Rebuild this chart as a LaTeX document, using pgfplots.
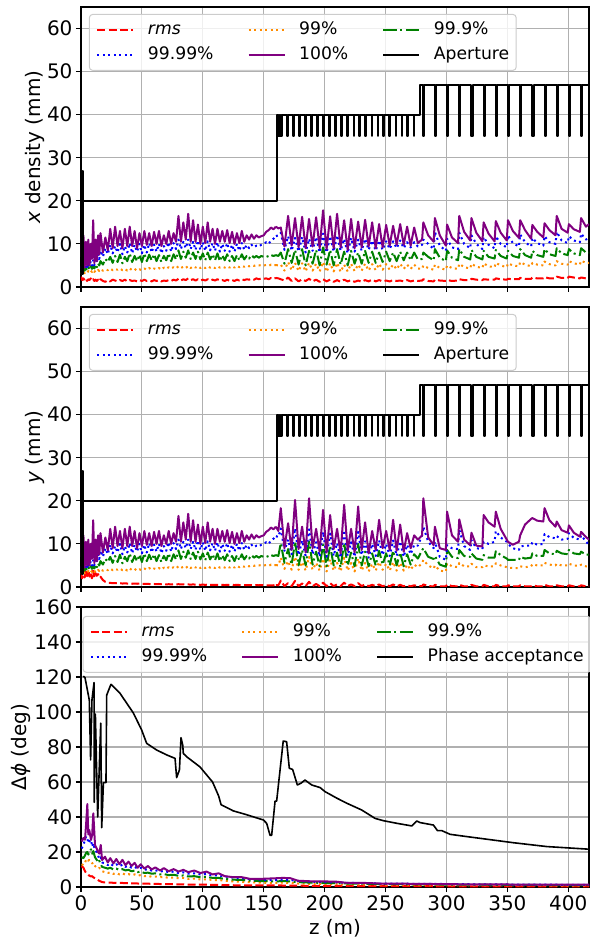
\documentclass[border=0pt]{standalone}
\usepackage{fontspec}
\setmainfont{DejaVu Sans}
\usepackage{pgfplots}
\usepackage{pgfplotstable}
\pgfplotsset{compat=1.18}

\definecolor{mred}{HTML}{FF0000}
\definecolor{morange}{HTML}{FF8C00}
\definecolor{mgreen}{HTML}{008000}
\definecolor{mblue}{HTML}{0000FF}
\definecolor{mpurple}{HTML}{800080}

% Beam envelope, first 160 m (identical in x and y except the rms column)
\pgfplotstableread{
z rmsx rmsy p99 p999 p9999 p100
0 2.4 3.2 3.4 4.0 4.8 11.5
1 1.6 2.0 3.0 3.6 4.2 6.0
2 2.0 4.2 3.6 4.5 5.8 12.0
3 1.5 2.2 3.2 3.8 4.4 4.5
4 1.9 3.8 3.5 4.3 5.2 10.5
5 1.4 2.5 3.3 3.9 4.6 5.0
6 1.8 4.0 3.7 4.6 5.5 11.0
7 1.6 2.4 3.4 4.0 4.8 5.0
8 2.0 3.5 3.8 4.8 6.0 10.0
9 1.5 2.0 3.5 4.2 5.0 6.5
10 1.8 3.8 3.9 5.0 6.2 15.5
11 1.4 2.2 3.5 4.3 5.0 5.5
12 1.7 3.2 3.8 5.2 6.8 11.0
13 1.4 2.6 3.6 4.6 5.5 6.0
14 1.7 3.0 4.0 5.5 7.5 12.0
15 1.3 2.2 3.7 5.0 6.5 7.5
16 1.8 2.4 4.1 6.0 8.5 12.5
18 1.4 1.6 3.8 5.2 7.0 8.0
20 1.2 1.2 4.1 6.5 9.0 11.5
22 1.6 1.0 3.9 5.8 7.6 8.5
24 1.3 0.95 4.3 7.0 9.8 13.5
26 1.7 0.9 3.9 5.6 7.8 9.0
28 1.5 0.9 4.2 7.2 9.5 14.0
30 1.3 0.85 4.0 5.8 8.0 9.5
32 1.6 0.9 4.3 7.5 10.0 13.0
34 1.4 0.8 3.9 5.5 7.6 9.0
36 1.7 0.85 4.2 7.0 9.5 13.5
38 1.3 0.8 3.8 6.0 8.0 9.5
40 1.6 0.8 4.3 7.8 10.2 14.0
42 1.4 0.75 3.9 5.8 7.8 9.5
44 1.5 0.8 4.2 7.2 9.8 13.0
46 1.3 0.75 3.8 6.0 8.2 9.0
48 1.6 0.8 4.1 7.5 10.0 12.5
50 1.4 0.7 3.9 5.8 7.8 9.5
52 1.7 0.75 4.3 7.8 9.8 13.0
54 1.4 0.7 4.0 6.0 8.0 9.8
56 1.5 0.7 4.4 7.5 10.2 12.5
58 1.3 0.65 4.0 6.2 8.0 9.5
60 1.6 0.7 4.3 7.6 9.8 12.8
62 1.4 0.65 4.1 6.0 8.2 10.0
64 1.6 0.7 4.4 7.4 10.0 13.0
66 1.3 0.65 4.0 5.8 7.8 9.5
68 1.5 0.7 4.5 7.2 9.5 12.0
70 1.4 0.6 4.2 6.2 8.4 10.0
72 1.6 0.65 4.6 7.8 10.4 13.0
74 1.4 0.6 4.3 6.0 8.2 10.0
76 1.7 0.65 4.6 7.6 10.2 12.5
78 1.5 0.6 4.3 6.4 8.8 10.5
80 1.9 0.65 4.8 8.5 11.0 16.5
82 1.5 0.6 4.4 6.5 8.8 10.5
84 1.8 0.6 4.7 8.2 10.5 15.0
86 1.6 0.55 4.4 6.8 9.0 11.0
88 2.0 0.6 4.9 8.5 11.0 17.0
90 1.6 0.55 4.4 6.5 8.8 10.5
92 1.8 0.6 4.8 8.0 10.5 15.5
94 1.5 0.55 4.5 6.5 8.6 10.5
96 1.8 0.55 4.8 8.2 10.8 14.5
98 1.5 0.5 4.4 6.4 8.6 10.0
100 1.7 0.55 4.7 7.8 10.4 14.0
102 1.5 0.5 4.4 6.2 8.4 10.2
104 1.8 0.55 4.8 8.0 10.6 15.0
106 1.5 0.5 4.5 6.4 8.5 10.5
108 1.7 0.5 4.7 7.6 10.2 13.5
110 1.5 0.5 4.4 6.2 8.4 10.0
112 1.8 0.5 4.8 7.8 10.4 13.5
114 1.5 0.5 4.5 6.0 8.2 10.5
116 1.6 0.5 4.7 7.4 10.0 13.0
118 1.4 0.45 4.5 6.2 8.4 10.5
120 1.7 0.5 4.8 7.6 10.2 13.2
122 1.4 0.45 4.5 6.0 8.2 10.2
124 1.6 0.5 4.8 7.2 9.8 12.8
126 1.4 0.45 4.5 6.0 8.2 10.0
128 1.7 0.5 4.9 7.4 10.0 12.5
130 1.5 0.45 4.6 6.2 8.4 10.2
132 1.8 0.45 4.9 7.6 10.2 13.0
134 1.6 0.45 4.7 6.4 8.6 10.5
136 1.8 0.45 5.0 7.2 9.8 12.0
138 1.7 0.45 4.8 6.6 9.0 11.0
140 1.9 0.45 5.0 7.4 9.8 12.2
142 1.7 0.4 4.9 6.8 9.2 11.2
144 2.0 0.45 5.1 7.2 9.6 12.0
146 1.8 0.4 5.0 6.8 9.4 11.5
148 2.0 0.45 5.1 7.2 9.8 11.8
150 1.9 0.4 5.0 7.0 10.0 12.0
152 2.0 0.4 5.1 7.2 10.4 12.8
154 1.8 0.4 4.9 7.0 10.0 13.2
156 2.1 0.4 5.2 7.4 10.8 13.8
158 1.9 0.4 5.0 7.2 11.2 13.4
160 2.1 0.45 5.1 7.4 11.8 14.0
}\tabA

% x envelope beyond 160 m
\pgfplotstableread{
z rms p99 p999 p9999 p100
160 2.1 5.1 7.4 11.8 14.0
162 2.0 5.0 7.2 12.0 13.6
164 1.8 5.2 8.0 12.6 13.8
167 1.5 3.8 5.4 8.6 9.4
170 2.2 5.8 8.8 11.8 16.5
172.9 1.4 3.9 5.6 8.4 9.6
175.7 2.0 5.6 8.6 11.4 16.0
178.6 1.3 3.7 5.2 8.2 9.2
181.5 1.8 5.5 8.8 11.6 16.3
184.4 1.4 3.6 5.0 8.0 9.0
187.2 1.9 5.6 8.4 11.2 15.8
190.1 1.3 3.8 5.4 8.4 9.4
193 1.7 5.4 8.6 11.6 16.2
195.9 1.2 3.6 5.0 8.0 9.0
198.7 1.8 5.8 9.2 12.4 17.8
201.6 1.3 3.5 5.2 8.0 8.8
204.5 1.7 5.5 8.6 11.8 16.4
207.4 1.2 3.6 5.0 8.2 9.0
210.2 1.6 5.6 8.8 12.0 17.0
213.1 1.2 3.5 5.2 8.4 9.2
216 1.7 5.2 8.2 11.2 15.5
218.9 1.3 3.6 5.0 7.8 8.6
221.7 1.6 5.4 8.4 11.4 15.8
224.6 1.2 3.7 5.4 8.2 9.0
227.5 1.5 5.2 8.0 11.0 15.2
230.4 1.2 3.8 5.4 8.4 9.2
233.2 1.6 5.4 8.4 11.2 15.6
236.1 1.3 3.8 5.6 8.6 9.4
239 1.7 5.3 8.2 10.8 15.0
241.9 1.3 3.9 5.6 8.4 9.0
244.7 1.6 5.4 8.0 10.8 14.6
247.6 1.3 4.0 5.8 8.6 9.2
250.5 1.5 5.3 8.2 10.6 14.4
253.4 1.3 4.0 6.0 8.8 9.6
256.2 1.6 5.2 8.0 10.6 14.2
259.1 1.4 4.1 6.0 9.0 9.8
262 1.5 5.4 8.2 10.8 14.6
264.9 1.3 4.2 6.2 9.0 9.8
267.7 1.6 5.2 8.0 10.4 14.0
270.6 1.3 4.2 6.2 9.2 9.6
273.5 1.5 5.2 8.0 10.4 13.8
276.5 1.4 4.3 6.4 9.4 10.2
280 1.5 4.2 6.5 9.8 11.0
281 1.8 5.0 8.0 11.0 15.0
285 1.4 4.4 7.0 10.0 12.0
289.5 1.3 4.0 6.2 8.8 10.5
290.5 1.7 5.2 8.8 12.8 16.0
294.5 1.5 4.4 6.8 9.6 12.0
299.5 1.4 4.0 6.0 8.4 9.6
300.5 1.6 5.0 8.5 11.2 14.5
304.5 1.4 4.4 6.8 9.2 11.5
309.5 1.5 4.2 6.2 8.8 10.2
310.5 1.8 5.4 8.8 12.6 16.5
314.5 1.6 4.6 7.0 10.0 12.8
319.5 1.6 4.3 6.4 9.0 10.8
320.5 1.9 5.4 8.6 12.0 16.0
324.5 1.7 4.7 7.0 10.0 12.6
329.5 1.6 4.4 6.4 8.8 10.6
330.5 1.8 5.5 8.4 11.6 15.0
334.5 1.7 4.8 7.0 9.8 12.4
339.5 1.7 4.6 6.6 9.0 10.6
340.5 2.0 5.6 8.6 11.8 15.3
344.5 1.8 5.0 7.2 10.0 12.6
349.5 1.7 4.6 6.6 9.2 10.8
350.5 1.9 5.5 8.4 12.0 15.5
354.5 1.8 5.0 7.2 10.2 13.0
359.5 1.8 4.8 6.8 9.4 11.4
360.5 2.1 5.8 8.8 12.2 15.5
364.5 1.9 5.2 7.4 10.4 13.2
369.5 1.9 4.8 6.8 9.4 11.2
370.5 2.2 5.6 8.4 11.4 14.4
374.5 2.0 5.2 7.4 10.2 12.8
379.5 2.0 5.0 7.0 9.6 11.5
380.5 2.3 5.9 8.8 11.8 14.8
384.5 2.0 5.3 7.6 10.4 13.2
389.5 2.0 5.0 7.2 10.0 12.0
390.5 2.4 6.0 9.0 12.8 16.5
394.5 2.1 5.4 7.8 10.8 13.5
399.5 2.1 5.2 7.4 10.2 12.6
400.5 2.4 6.0 8.8 11.8 14.6
404.5 2.2 5.5 7.8 10.8 13.4
409.5 2.0 5.2 7.4 10.4 12.8
410.5 2.2 6.1 9.0 12.4 16.0
414.5 2.0 5.6 8.0 11.0 14.0
417 1.9 5.6 8.0 11.4 14.6
}\tabXB

% y envelope beyond 160 m
\pgfplotstableread{
z rms p99 p999 p9999 p100
160 0.45 5.1 7.4 11.8 14.0
162 0.4 5.0 7.2 11.6 13.0
164 1.5 6.8 10.2 13.6 18.3
167 0.2 4.2 5.6 8.4 9.0
170 0.9 6.0 8.8 11.0 14.8
172.9 0.2 4.0 5.2 7.6 8.6
175.7 1.4 7.0 10.5 13.6 20.2
178.6 0.2 4.0 5.0 7.4 8.8
181.5 0.8 5.8 8.6 10.8 14.0
184.4 0.2 3.8 5.0 7.2 8.0
187.2 1.2 7.0 10.6 13.4 20.6
190.1 0.2 4.0 5.2 7.6 9.0
193 0.7 5.6 8.2 10.4 13.5
195.9 0.2 3.8 4.8 7.0 8.2
198.7 1.0 6.6 9.8 12.8 17.9
201.6 0.2 3.6 4.8 7.0 8.0
204.5 0.9 6.4 9.6 12.4 16.7
207.4 0.2 3.8 5.0 7.2 8.8
210.2 0.6 5.6 8.0 10.2 13.5
213.1 0.2 3.6 4.6 6.8 7.8
216 1.0 6.8 10.2 13.2 19.1
218.9 0.2 3.8 5.0 7.2 8.4
221.7 0.6 5.6 8.0 10.4 13.5
224.6 0.2 3.6 4.8 7.0 8.0
227.5 0.9 6.6 10.0 12.8 18.7
230.4 0.2 3.8 5.0 7.4 8.6
233.2 0.6 5.6 8.2 10.6 15.0
236.1 0.2 3.6 4.8 6.8 7.8
239 0.5 5.4 7.8 10.0 13.0
241.9 0.2 3.8 5.0 7.2 8.6
244.7 0.6 5.8 8.4 10.8 15.6
247.6 0.15 4.0 5.2 7.4 9.0
250.5 0.5 5.4 7.8 10.0 13.0
253.4 0.15 3.8 5.0 7.2 8.6
256.2 0.6 5.8 8.4 10.8 15.6
259.1 0.15 3.8 5.0 7.2 8.4
262 0.5 5.6 8.0 10.6 14.5
264.9 0.15 3.8 4.8 7.0 8.2
267.7 0.4 5.2 7.6 9.8 12.5
270.6 0.15 4.0 5.2 7.6 9.0
273.5 0.4 5.2 7.6 9.8 12.0
276.5 0.2 4.6 6.6 9.6 11.0
280 0.2 5.5 8.5 12.0 12.0
281 0.6 6.3 9.0 14.0 20.6
285 0.2 5.0 7.0 10.5 11.5
289.5 0.15 4.3 6.5 9.0 9.7
290.5 0.5 5.0 7.2 10.5 14.0
294.5 0.15 3.8 5.2 7.0 9.0
299.5 0.15 3.6 4.7 6.3 8.6
300.5 0.6 5.5 8.6 9.7 17.5
304.5 0.2 4.8 7.0 9.0 12.0
309.5 0.15 4.6 6.7 8.8 10.5
310.5 0.5 5.6 8.6 13.3 15.7
314.5 0.15 4.8 7.2 9.5 11.0
319.5 0.15 4.8 7.0 8.6 9.7
320.5 0.5 5.4 7.8 10.9 12.6
324.5 0.15 4.6 6.6 9.0 9.6
329.5 0.15 4.6 6.3 8.8 9.4
330.5 0.5 5.0 7.4 10.5 16.7
334.5 0.15 4.8 6.8 10.0 15.0
339.5 0.15 4.8 6.8 10.5 14.0
340.5 0.5 5.5 8.3 13.0 17.5
344.5 0.15 5.0 7.4 11.5 13.5
349.5 0.15 4.6 6.6 10.5 11.0
350.5 0.4 4.5 6.3 10.0 10.5
354.5 0.15 4.4 6.3 9.0 9.8
359.5 0.15 4.4 6.3 8.6 10.5
360.5 0.4 4.8 7.0 9.4 12.0
364.5 0.15 4.6 6.6 9.6 14.5
369.5 0.15 4.8 6.8 9.6 15.8
370.5 0.4 5.3 7.8 10.4 16.0
374.5 0.15 5.0 7.2 9.8 15.4
379.5 0.15 5.0 7.2 10.0 15.2
380.5 0.5 5.6 8.6 12.3 18.3
384.5 0.15 5.2 7.8 11.6 15.5
389.5 0.15 5.0 7.6 11.3 14.0
390.5 0.4 5.4 8.4 11.8 15.2
394.5 0.15 5.0 7.8 11.0 13.2
399.5 0.15 5.0 7.6 11.2 12.6
400.5 0.4 5.4 8.6 12.5 14.3
404.5 0.15 5.0 7.8 11.4 12.6
409.5 0.15 4.9 7.6 11.0 11.7
410.5 0.4 5.2 8.2 12.0 12.8
414.5 0.15 4.8 7.5 10.6 11.6
417 0.15 4.8 7.5 9.7 11.0
}\tabYB

% Phase spread along the linac
\pgfplotstableread{
z rms p99 p999 p9999 p100
0.5 12.0 13.0 17.0 22.0 26.0
2 11.0 12.5 16.5 24.0 28.0
3.3 9.0 14.0 18.0 27.0 27.0
4.2 8.0 15.5 19.5 29.0 36.0
5.2 7.5 16.0 20.0 28.0 47.4
6.0 7.0 15.0 18.5 25.0 30.0
6.8 6.5 15.5 20.0 26.0 32.6
8.2 6.0 14.5 21.5 27.0 26.9
9.2 6.2 13.5 19.0 23.0 30.0
10.1 5.5 14.0 20.5 25.0 42.1
11.5 5.0 12.0 17.0 21.0 24.0
12.9 4.5 11.0 15.5 20.0 22.0
14.0 4.0 10.5 14.0 18.0 20.0
15.0 3.5 11.0 15.0 16.0 19.1
16.2 3.2 10.0 13.0 17.0 24.0
17.3 2.8 9.0 11.5 14.0 15.4
19.7 2.6 8.5 11.0 13.5 17.3
22 2.5 8.0 10.5 12.5 14.0
24 2.5 8.4 11.0 13.5 16.5
26.6 2.4 7.5 10.0 12.0 13.5
29 2.4 8.0 10.5 13.0 16.0
31.5 2.3 7.2 9.8 11.8 13.0
34 2.3 7.8 10.2 12.8 15.5
36.5 2.2 7.0 9.5 11.5 12.5
39 2.2 7.4 9.8 12.2 14.5
41.5 2.1 6.8 9.0 11.0 12.0
44 2.1 7.2 9.4 11.5 13.8
46.5 2.0 6.5 8.5 10.5 11.0
49 2.0 6.8 8.8 11.0 13.0
52 1.9 6.2 8.0 9.8 10.5
55 1.9 6.4 8.2 10.2 12.0
58 1.8 5.8 7.6 9.4 10.0
61 1.8 6.0 7.8 9.6 11.2
65 1.7 5.6 7.2 8.8 9.4
68 1.7 5.8 7.4 9.2 10.8
72 1.6 5.2 6.8 8.5 9.0
76 1.6 5.4 7.0 8.8 10.2
80 1.5 5.0 6.4 8.0 8.8
84 1.5 5.2 6.6 8.4 9.8
88 1.4 4.6 6.0 7.6 8.5
93 1.4 4.8 6.2 7.8 9.4
98 1.3 4.3 5.6 7.2 8.0
103 1.3 4.4 5.8 7.4 8.8
108 1.2 4.0 5.2 6.6 7.2
113 1.2 4.0 5.2 6.6 7.8
118 1.1 3.6 4.6 6.0 6.2
125 1.0 3.2 4.2 5.4 5.6
132 1.0 3.0 4.0 5.0 5.6
139 0.95 2.7 3.6 4.5 4.6
146 0.9 2.5 3.4 4.2 4.6
153 0.9 2.4 3.3 4.0 4.8
160 0.9 2.4 3.2 4.0 5.0
166 0.85 2.5 3.4 4.2 5.2
172 0.8 2.3 3.2 4.0 5.0
178 0.75 2.0 2.8 3.4 3.6
184 0.7 1.9 2.6 3.2 3.4
190 0.7 1.8 2.5 3.0 3.2
200 0.65 1.7 2.3 2.8 3.2
210 0.6 1.6 2.2 2.6 3.0
218 0.6 1.5 2.0 2.4 2.4
230 0.55 1.4 1.9 2.2 2.4
245 0.5 1.3 1.7 2.0 2.0
260 0.5 1.2 1.6 1.9 1.9
280 0.45 1.1 1.5 1.8 1.8
300 0.4 1.0 1.4 1.7 1.6
330 0.4 0.95 1.3 1.5 1.5
360 0.35 0.9 1.2 1.4 1.4
390 0.35 0.85 1.1 1.3 1.3
417 0.3 0.8 1.0 1.2 1.3
}\tabPhase

% Longitudinal phase acceptance
\pgfplotstableread{
z a
1.9 120.5
3.3 119.6
6.8 106.9
7.9 72.6
9.0 106.9
10.7 116.8
10.9 48.4
11.8 98.8
13.7 40.0
16.2 93.6
17.0 33.9
18.4 59.6
20.5 59.6
21.1 109.7
24.6 115.8
32 110.7
43 99.4
49.8 89.7
53.9 82.1
62 78.3
70.6 75.4
77.2 73.5
78.5 62.5
80.8 66.9
82.1 85.3
83.5 81.1
84 76.3
86.8 74.4
97.7 68.6
108 60.0
113 52.0
115 47.0
125 43.5
135 41.5
149.7 38.3
152.4 36.4
155.2 29.5
156.5 29.5
159.3 49.1
160.6 49.1
166 83.4
168.8 83.0
171 67.8
173.7 67.2
177.6 58.3
180.3 59.2
183.9 61.1
189.4 58.3
196.3 56.8
200.3 54.5
209.9 50.8
218.1 47.9
230.4 44.0
241.4 39.2
248.2 37.9
259.2 36.4
271.5 34.9
275.6 37.7
278.4 36.8
289.3 35.4
292.6 32.2
296.2 32.2
303 30.1
316.7 28.8
327.7 27.8
355 25.3
382.4 23.1
417 21.6
}\tabAcc

% Transverse aperture (same in x and y)
\pgfplotstableread[row sep=\\]{
z a\\
0 27\\ 0 3\\ 0.25 3\\ 0.25 27\\ 0.5 27\\ 0.5 3\\ 0.75 3\\ 0.75 27\\
1.0 27\\ 1.0 3\\ 1.25 3\\ 1.25 27\\ 1.5 27\\ 1.5 3\\ 1.75 3\\ 1.75 27\\
2.0 27\\ 2.0 20\\ 161 20\\ 161 40\\
161.3 40\\ 161.3 35\\ 161.9 35\\ 161.9 40\\
162.1 40\\ 162.1 35\\ 162.7 35\\ 162.7 40\\
162.9 40\\ 162.9 35\\ 163.5 35\\ 163.5 40\\
163.7 40\\ 163.7 35\\ 164.3 35\\ 164.3 40\\
164.5 40\\ 164.5 35\\ 165.2 35\\ 165.2 40\\
169.4 40\\ 169.4 35\\ 170.1 35\\ 170.1 40\\
174.4 40\\ 174.4 35\\ 175.1 35\\ 175.1 40\\
179.3 40\\ 179.3 35\\ 180.0 35\\ 180.0 40\\
184.2 40\\ 184.2 35\\ 184.9 35\\ 184.9 40\\
189.2 40\\ 189.2 35\\ 189.9 35\\ 189.9 40\\
194.1 40\\ 194.1 35\\ 194.8 35\\ 194.8 40\\
199.0 40\\ 199.0 35\\ 199.7 35\\ 199.7 40\\
203.9 40\\ 203.9 35\\ 204.6 35\\ 204.6 40\\
208.9 40\\ 208.9 35\\ 209.6 35\\ 209.6 40\\
213.8 40\\ 213.8 35\\ 214.5 35\\ 214.5 40\\
218.7 40\\ 218.7 35\\ 219.4 35\\ 219.4 40\\
223.7 40\\ 223.7 35\\ 224.4 35\\ 224.4 40\\
228.6 40\\ 228.6 35\\ 229.3 35\\ 229.3 40\\
233.5 40\\ 233.5 35\\ 234.2 35\\ 234.2 40\\
238.5 40\\ 238.5 35\\ 239.2 35\\ 239.2 40\\
243.4 40\\ 243.4 35\\ 244.1 35\\ 244.1 40\\
248.3 40\\ 248.3 35\\ 249.0 35\\ 249.0 40\\
253.2 40\\ 253.2 35\\ 253.9 35\\ 253.9 40\\
258.2 40\\ 258.2 35\\ 258.9 35\\ 258.9 40\\
263.1 40\\ 263.1 35\\ 263.8 35\\ 263.8 40\\
268.0 40\\ 268.0 35\\ 268.7 35\\ 268.7 40\\
273.0 40\\ 273.0 35\\ 273.7 35\\ 273.7 40\\
278.3 40\\ 278.3 47\\ 278.9 47\\
280.5 47\\ 280.5 35\\ 281.5 35\\ 281.5 47\\
290.5 47\\ 290.5 35\\ 291.5 35\\ 291.5 47\\
300.5 47\\ 300.5 35\\ 301.5 35\\ 301.5 47\\
310.5 47\\ 310.5 35\\ 311.5 35\\ 311.5 47\\
320.5 47\\ 320.5 35\\ 321.5 35\\ 321.5 47\\
330.5 47\\ 330.5 35\\ 331.5 35\\ 331.5 47\\
340.5 47\\ 340.5 35\\ 341.5 35\\ 341.5 47\\
350.5 47\\ 350.5 35\\ 351.5 35\\ 351.5 47\\
360.5 47\\ 360.5 35\\ 361.5 35\\ 361.5 47\\
370.5 47\\ 370.5 35\\ 371.5 35\\ 371.5 47\\
380.5 47\\ 380.5 35\\ 381.5 35\\ 381.5 47\\
390.5 47\\ 390.5 35\\ 391.5 35\\ 391.5 47\\
400.5 47\\ 400.5 35\\ 401.5 35\\ 401.5 47\\
410.5 47\\ 410.5 35\\ 411.5 35\\ 411.5 47\\
417 47\\
}\tabAp

\newcommand{\labfont}{\fontsize{20}{24}\selectfont}

\pgfplotsset{
  rmsline/.style={mred, line width=2pt, dash pattern=on 7.9pt off 3.4pt},
  p99line/.style={morange, line width=2pt, dash pattern=on 2pt off 3.5pt},
  p999line/.style={mgreen, line width=2pt, dash pattern=on 13.7pt off 3.4pt on 2pt off 3.4pt},
  p9999line/.style={mblue, line width=2pt, dash pattern=on 2pt off 3.5pt},
  p100line/.style={mpurple, line width=2pt},
  blackline/.style={black, line width=2pt},
  panel/.style={
    width=508pt, height=280pt, scale only axis,
    xmin=0, xmax=417,
    xtick={0,50,...,400},
    grid=major,
    grid style={color=black!31, line width=1.1pt},
    axis line style={line width=1.1pt},
    tick style={line width=1.1pt, color=black},
    major tick length=5pt,
    tick align=outside,
    tick pos=left,
    tick label style={font=\labfont},
    /pgf/number format/assume math mode=true,
    every axis plot/.append style={line join=round},
    legend columns=3,
    legend cell align=left,
    legend image code/.code={\draw[##1] (0pt,0pt) -- (36pt,0pt);},
    legend style={
      font=\fontsize{17.2}{20}\selectfont,
      draw=black!20, line width=1pt, rounded corners=3pt,
      fill=white, fill opacity=0.8, text opacity=1,
      inner xsep=6.9pt, inner ysep=6.9pt,
      anchor=north west,
      nodes={inner sep=0pt, text height=13pt, text depth=4pt},
      row sep=8pt,
      /tikz/every odd column/.append style={column sep=13.6pt},
      /tikz/every even column/.append style={column sep=34pt},
    },
    every axis x label/.style={at={(axis description cs:0.5,-0.1464)}, anchor=center, font=\labfont},
  },
}

\begin{document}
\begin{tikzpicture}
% ---------- horizontal envelope ----------
\begin{axis}[panel, name=ax1, at={(0pt,600pt)}, anchor=south west,
  ymin=0, ymax=65, ytick={0,10,...,60}, xticklabels={},
  ylabel={\textit{x} density (mm)},
  every axis y label/.style={at={(axis description cs:-0.0906,0.5)}, rotate=90, anchor=center, font=\labfont},
  legend style={at={(0.0157,0.975)}}]
\addplot[rmsline] table[x=z, y=rmsx] {\tabA};
\addlegendentry{\textit{rms}}
\addplot[p99line] table[x=z, y=p99] {\tabA};
\addlegendentry{99\%}
\addplot[p999line] table[x=z, y=p999] {\tabA};
\addlegendentry{99.9\%}
\addplot[p9999line] table[x=z, y=p9999] {\tabA};
\addlegendentry{99.99\%}
\addplot[p100line] table[x=z, y=p100] {\tabA};
\addlegendentry{100\%}
\addplot[blackline] table[x=z, y=a] {\tabAp};
\addlegendentry{Aperture}
\addplot[rmsline, forget plot] table[x=z, y=rms] {\tabXB};
\addplot[p99line, forget plot] table[x=z, y=p99] {\tabXB};
\addplot[p999line, forget plot] table[x=z, y=p999] {\tabXB};
\addplot[p9999line, forget plot] table[x=z, y=p9999] {\tabXB};
\addplot[p100line, forget plot] table[x=z, y=p100] {\tabXB};
\end{axis}

% ---------- vertical envelope ----------
\begin{axis}[panel, name=ax2, at={(0pt,300pt)}, anchor=south west,
  ymin=0, ymax=65, ytick={0,10,...,60}, xticklabels={},
  ylabel={\textit{y} (mm)},
  every axis y label/.style={at={(axis description cs:-0.0906,0.5)}, rotate=90, anchor=center, font=\labfont},
  legend style={at={(0.0157,0.975)}}]
\addplot[rmsline] table[x=z, y=rmsy] {\tabA};
\addlegendentry{\textit{rms}}
\addplot[p99line] table[x=z, y=p99] {\tabA};
\addlegendentry{99\%}
\addplot[p999line] table[x=z, y=p999] {\tabA};
\addlegendentry{99.9\%}
\addplot[p9999line] table[x=z, y=p9999] {\tabA};
\addlegendentry{99.99\%}
\addplot[p100line] table[x=z, y=p100] {\tabA};
\addlegendentry{100\%}
\addplot[blackline] table[x=z, y=a] {\tabAp};
\addlegendentry{Aperture}
\addplot[rmsline, forget plot] table[x=z, y=rms] {\tabYB};
\addplot[p99line, forget plot] table[x=z, y=p99] {\tabYB};
\addplot[p999line, forget plot] table[x=z, y=p999] {\tabYB};
\addplot[p9999line, forget plot] table[x=z, y=p9999] {\tabYB};
\addplot[p100line, forget plot] table[x=z, y=p100] {\tabYB};
\end{axis}

% ---------- phase spread ----------
\begin{axis}[panel, name=ax3, at={(0pt,0pt)}, anchor=south west,
  ymin=0, ymax=160, ytick={0,20,...,160},
  xlabel={z (m)},
  ylabel={Δ\textit{ϕ} (deg)},
  every axis y label/.style={at={(axis description cs:-0.118,0.5)}, rotate=90, anchor=center, font=\labfont},
  legend style={at={(0.0033,0.968)}}]
\addplot[rmsline] table[x=z, y=rms] {\tabPhase};
\addlegendentry{\textit{rms}}
\addplot[p99line] table[x=z, y=p99] {\tabPhase};
\addlegendentry{99\%}
\addplot[p999line] table[x=z, y=p999] {\tabPhase};
\addlegendentry{99.9\%}
\addplot[p9999line] table[x=z, y=p9999] {\tabPhase};
\addlegendentry{99.99\%}
\addplot[p100line] table[x=z, y=p100] {\tabPhase};
\addlegendentry{100\%}
\addplot[black, line width=1.6pt] table[x=z, y=a] {\tabAcc};
\addlegendentry{Phase acceptance}
\end{axis}

\pgfresetboundingbox
\path[use as bounding box] (-81pt,-55pt) rectangle (508pt,887pt);
\end{tikzpicture}
\end{document}
